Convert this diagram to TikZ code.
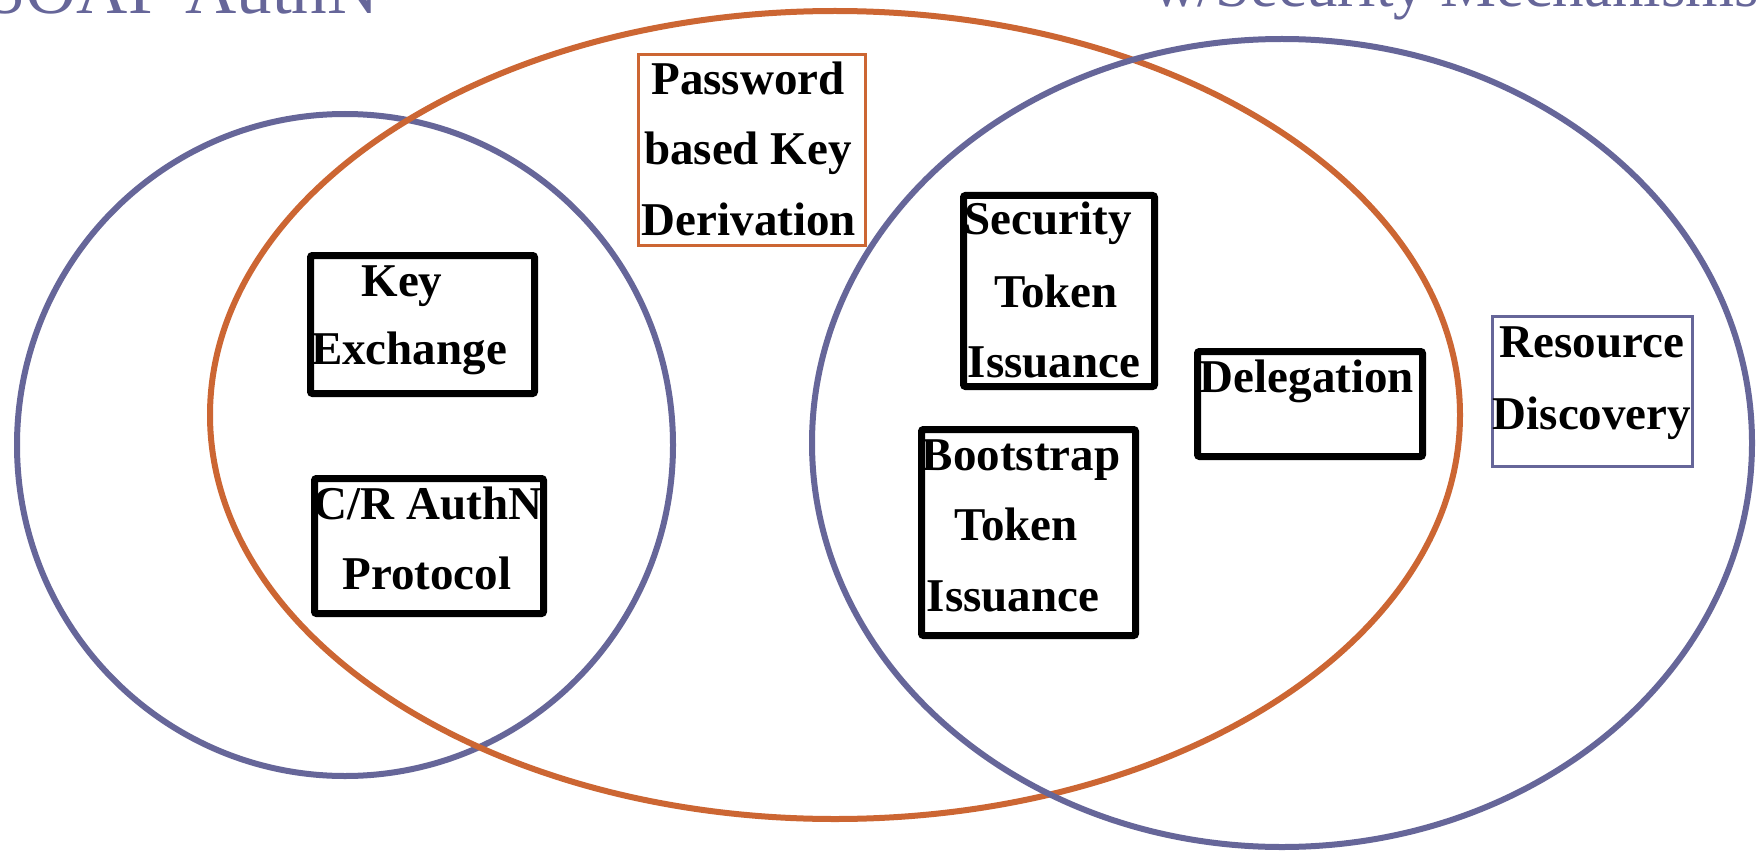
\documentclass[tikz,border=0pt]{standalone}
\usepackage{fontspec}
\setmainfont{Liberation Serif}
\definecolor{slate}{RGB}{102,102,153}
\definecolor{rust}{RGB}{204,102,51}
\tikzset{
  venn/.style={line width=6pt},
  blk/.style={draw=black, line width=7pt, fill=white, rounded corners=2pt, inner sep=0pt},
  thinbox/.style={line width=3pt, fill=white, inner sep=0pt},
  lbl/.style={font=\bfseries\fontsize{47}{56}\selectfont, anchor=base, inner sep=0pt},
  ttl/.style={text=slate, anchor=base west, inner sep=0pt}
}
\begin{document}
\begin{tikzpicture}[x=1pt,y=-1pt]
\useasboundingbox (0,0) rectangle (1758,853);
\clip (0,0) rectangle (1758,853);
\fill[white] (0,0) rectangle (1758,853);

% titles (cut off by the top edge)
\node[ttl, font=\fontsize{71}{80}\selectfont] (t1) at (-14,14) {SOAP AuthN};
\node[ttl, font=\fontsize{63}{72}\selectfont] (t2) at (1152,7) {w/Security Mechanisms};

% Venn ellipses
\draw[venn, slate] (345,445) ellipse [x radius=328pt, y radius=331pt];
\draw[venn, rust] (835,415) ellipse [x radius=625pt, y radius=404pt];
\draw[venn, slate] (1282,443) ellipse [x radius=470pt, y radius=404pt];

% boxes
\node[thinbox, draw=rust, minimum width=227pt, minimum height=191pt] (pw) at (752,150) {};
\node[blk, minimum width=224pt, minimum height=138pt] (ke) at (422.5,324.5) {};
\node[blk, minimum width=229pt, minimum height=135pt] (cr) at (429,546) {};
\node[blk, minimum width=191pt, minimum height=191pt] (st) at (1059,291) {};
\node[blk, minimum width=225pt, minimum height=105pt] (dl) at (1310,404) {};
\node[blk, minimum width=214pt, minimum height=206pt] (bt) at (1028.5,532.5) {};
\node[thinbox, draw=slate, minimum width=200pt, minimum height=150pt] (rd) at (1592.5,391.5) {};

% labels
\node[lbl] (pw1) at (748,95) {Password};
\node[lbl] (pw2) at (748,165) {based Key};
\node[lbl] (pw3) at (749,236) {Derivation};

\node[lbl] (ke1) at (402,296) {Key};
\node[lbl] (ke2) at (409,364) {Exchange};

\node[lbl] (cr1) at (428,519) {C/R AuthN};
\node[lbl] (cr2) at (427,589) {Protocol};

\node[lbl] (st1) at (1048,234) {Security};
\node[lbl] (st2) at (1056,307) {Token};
\node[lbl] (st3) at (1054,377) {Issuance};

\node[lbl] (dl1) at (1307,392) {Delegation};

\node[lbl] (bt1) at (1021,470) {Bootstrap};
\node[lbl] (bt2) at (1016,540) {Token};
\node[lbl] (bt3) at (1013,611) {Issuance};

\node[lbl] (rd1) at (1592,357) {Resource};
\node[lbl] (rd2) at (1592,429) {Discovery};
\end{tikzpicture}
\end{document}
